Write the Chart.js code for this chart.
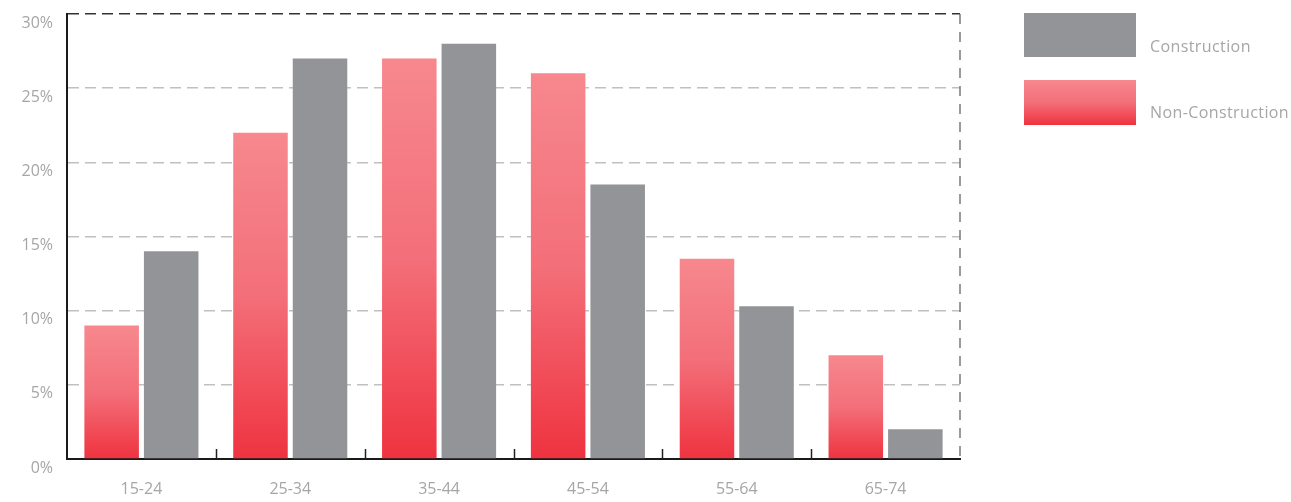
<!DOCTYPE html>
<html>
<head>
<meta charset="utf-8">
<script src="https://cdn.jsdelivr.net/npm/chart.js@4/dist/chart.umd.min.js"></script>
<style>
  html, body { margin: 0; padding: 0; background: #fff; }
  #wrap { position: relative; width: 1291px; height: 502px; }
  canvas { position: absolute; left: 0; top: 0; }
  .lg-box { position: absolute; left: 1024px; width: 112px; }
  .lg-text { position: absolute; left: 1150px; font-family: "Open Sans", Lato, sans-serif; font-size: 16px; color: #a6a6a6; line-height: 18px; letter-spacing: 0.4px; }
</style>
</head>
<body>
<div id="wrap">
  <canvas id="c" width="1291" height="502"></canvas>
  <div class="lg-box" style="top:13px;height:44px;background:#939497;"></div>
  <div class="lg-text" style="top:37px;">Construction</div>
  <div class="lg-box" style="top:80px;height:45px;background:linear-gradient(to bottom,#f7888e 0%,#f36f79 50%,#ef3340 100%);"></div>
  <div class="lg-text" style="top:103px;">Non-Construction</div>
</div>
<script>
const categories = ['15-24', '25-34', '35-44', '45-54', '55-64', '65-74'];
const nonConstruction = [9, 22, 27, 26, 13.5, 7];
const construction = [14, 27, 28, 18.5, 10.3, 2];
const yTicks = [0, 5, 10, 15, 20, 25, 30];

const FONT = { family: '"Open Sans", Lato, sans-serif', size: 16 };
const TICK_COLOR = '#a6a6a6';

function redGradient(ctx) {
  const chart = ctx.chart;
  const area = chart.chartArea;
  if (!area || ctx.type !== 'data') return '#f36f79';
  const y = chart.scales.y;
  const top = y.getPixelForValue(ctx.parsed.y);
  const bottom = y.getPixelForValue(0);
  if (!isFinite(top) || !isFinite(bottom) || top === bottom) return '#f36f79';
  const g = chart.ctx.createLinearGradient(0, top, 0, bottom);
  g.addColorStop(0, '#f7888e');
  g.addColorStop(0.5, '#f36f79');
  g.addColorStop(1, '#ef3340');
  return g;
}

const extras = {
  id: 'extras',
  afterDraw(chart) {
    const { ctx, chartArea: a, scales: { x } } = chart;
    ctx.save();
    ctx.strokeStyle = '#7a7a7a';
    ctx.lineWidth = 1.5;
    ctx.setLineDash([10, 8]);
    ctx.beginPath();
    ctx.moveTo(a.right, a.top);
    ctx.lineTo(a.right, a.bottom);
    ctx.stroke();
    ctx.setLineDash([]);
    ctx.strokeStyle = '#222';
    ctx.lineWidth = 1.5;
    for (let i = 0; i < categories.length - 1; i++) {
      const px = Math.round((x.getPixelForValue(i) + x.getPixelForValue(i + 1)) / 2) + 0.5;
      ctx.beginPath();
      ctx.moveTo(px, a.bottom - 10);
      ctx.lineTo(px, a.bottom);
      ctx.stroke();
    }
    ctx.restore();
  }
};

new Chart(document.getElementById('c'), {
  type: 'bar',
  data: {
    labels: categories,
    datasets: [
      { label: 'Non-Construction', data: nonConstruction, backgroundColor: redGradient,
        categoryPercentage: 0.8, barPercentage: 0.916 },
      { label: 'Construction', data: construction, backgroundColor: '#939497',
        categoryPercentage: 0.8, barPercentage: 0.916 }
    ]
  },
  options: {
    responsive: false,
    animation: false,
    devicePixelRatio: 1,
    layout: { padding: { left: 0, right: 331, top: 14, bottom: 0 } },
    plugins: { legend: { display: false }, tooltip: { enabled: false } },
    scales: {
      x: {
        z: 1,
        grid: { display: false, drawTicks: false },
        border: { display: true, color: '#1a1a1a', width: 2 },
        ticks: { font: FONT, color: TICK_COLOR, padding: 21 },
        afterFit(s) { s.height = 43; s.paddingLeft = 0; s.paddingRight = 0; }
      },
      y: {
        z: 1,
        min: 0, max: 30,
        afterBuildTicks(s) { s.ticks = yTicks.map(v => ({ value: v })); },
        grid: {
          drawTicks: false,
          lineWidth: 1.5,
          color: c => (c.tick && c.tick.value === 30) ? '#333333' : '#c0c0c0'
        },
        border: { display: true, color: '#1a1a1a', width: 2, dash: [11, 6] },
        ticks: {
          font: FONT, color: TICK_COLOR, padding: 14, labelOffset: 9,
          callback: v => v + '%'
        },
        afterFit(s) { s.width = 67; s.paddingTop = 0; s.paddingBottom = 0; }
      }
    }
  },
  plugins: [extras]
});
</script>
</body>
</html>
